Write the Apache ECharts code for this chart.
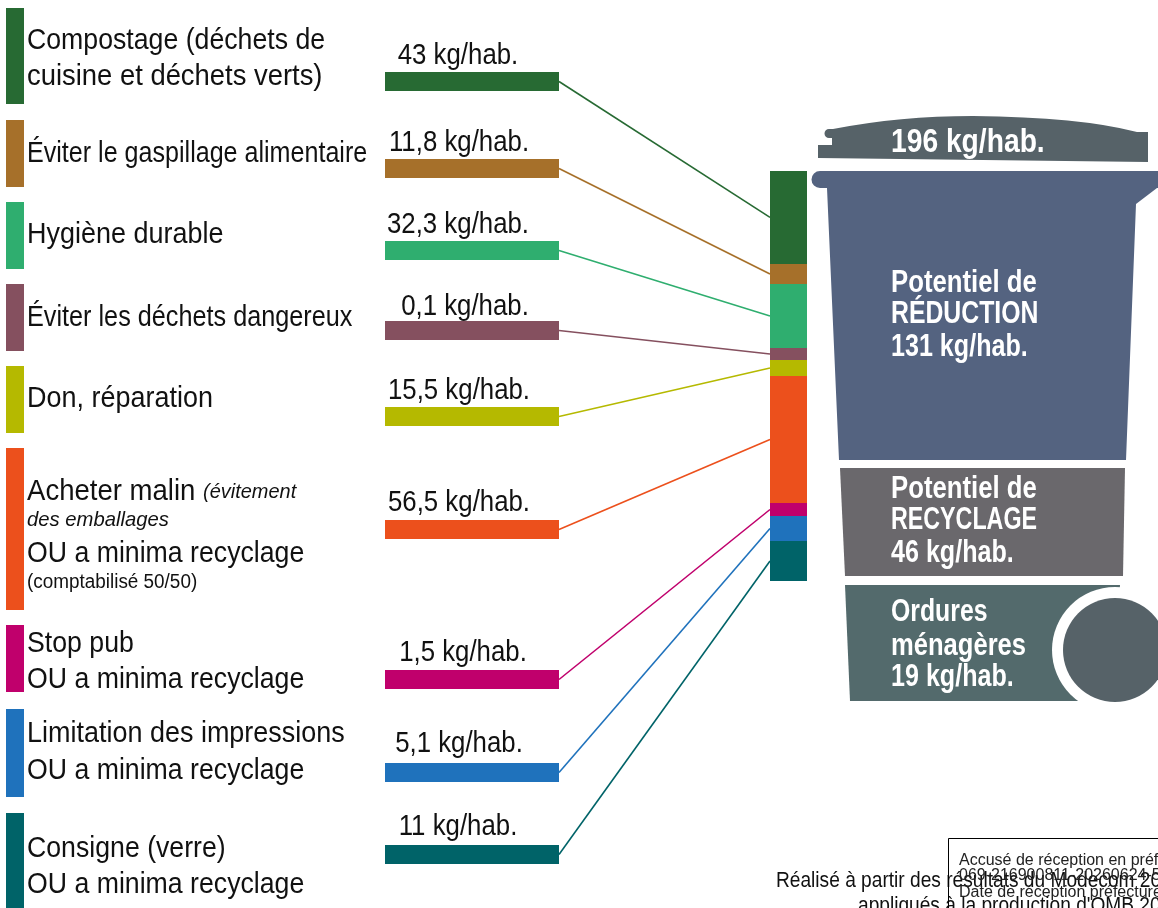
<!DOCTYPE html>
<html>
<head>
<meta charset="utf-8">
<title>Potentiel de réduction</title>
<script src="https://cdn.jsdelivr.net/npm/echarts@6/dist/echarts.min.js"></script>
<style>
  html, body { margin: 0; padding: 0; background: #fff; overflow: hidden; }
  #main { width: 1158px; height: 908px; }
</style>
</head>
<body>
<div id="main"></div>
<script>
// data
var categories = [
  ["Compostage (déchets de", "cuisine et déchets verts)"],
  ["Éviter le gaspillage alimentaire"],
  ["Hygiène durable"],
  ["Éviter les déchets dangereux"],
  ["Don, réparation"],
  ["Acheter malin {i|(évitement}", "{i|des emballages}", "OU a minima recyclage", "{s|(comptabilisé 50/50)}"],
  ["Stop pub", "OU a minima recyclage"],
  ["Limitation des impressions", "OU a minima recyclage"],
  ["Consigne (verre)", "OU a minima recyclage"]
];
var valueLabels = ["43 kg/hab.", "11,8 kg/hab.", "32,3 kg/hab.", "0,1 kg/hab.", "15,5 kg/hab.",
  "56,5 kg/hab.", "1,5 kg/hab.", "5,1 kg/hab.", "11 kg/hab."];
// segment sizes as drawn in the column (the picture does not follow the kg values strictly)
var columnValues = [43, 9.3, 29.6, 5.6, 7.4, 58.8, 6, 11.6, 18.5];
var binLabels = [
  ["196 kg/hab."],
  ["Potentiel de", "RÉDUCTION", "131 kg/hab."],
  ["Potentiel de", "RECYCLAGE", "46 kg/hab."],
  ["Ordures", "ménagères", "19 kg/hab."]
];

// styles and layout
var colors = ["#276a33", "#a6702a", "#2fae6f", "#85505f", "#b5b900", "#ec501c", "#c0006c", "#1f72bc", "#006368"];
var stripTop = [8, 120, 202, 284, 366, 448, 625, 709, 813];
var stripBottom = [104, 187, 269, 351, 433, 610, 692, 797, 908];
var barTop = [72, 159, 241, 321, 407, 520, 670, 763, 845];
var labelY = [[41, 77], [154], [235], [318], [399], [492, 520, 554, 582], [644, 680], [734, 771], [849, 885]];
// the source font is condensed, the installed ones are not: squeeze each line to its width
var labelScale = [[0.92, 0.945], [0.865], [0.93], [0.87], [0.93], [0.95, 0.965, 0.92, 0.945], [0.92, 0.92], [0.93, 0.92], [0.92, 0.92]];
var valueLabelX = [458, 459, 458, 465, 459, 459, 463, 459, 458];
var valueLabelY = [56, 143, 225, 307, 391, 503, 653, 744, 827];
var binLabelY = [[143], [283, 314, 347], [489, 520, 553], [612, 646, 677]];
var binLabelScale = [[0.83], [0.83, 0.8, 0.81], [0.83, 0.75, 0.81], [0.8, 0.825, 0.81]];
var COL_LEFT = 770, COL_W = 37, COL_TOP = 171, COL_H = 410;
var BAR_LEFT = 385, BAR_RIGHT = 559, BAR_H = 19;
var SANS = '"Liberation Sans", sans-serif';

var columnTotal = columnValues.reduce(function (a, b) { return a + b; }, 0);
function columnMid(i) {
  var before = columnValues.slice(0, i).reduce(function (a, b) { return a + b; }, 0);
  return COL_TOP + (before + columnValues[i] / 2) / columnTotal * COL_H;
}

var rowIndex = categories.map(function (c, i) { return i; });

function renderRow(params, api) {
  var i = api.value(0);
  var children = [];
  var p;
  // colour strip on the left
  var a = api.coord([6, stripTop[i]]), b = api.coord([24, stripBottom[i]]);
  children.push({ type: "rect", shape: { x: a[0], y: a[1], width: b[0] - a[0], height: b[1] - a[1] }, style: { fill: colors[i] } });
  // labels
  categories[i].forEach(function (line, k) {
    p = api.coord([27, labelY[i][k]]);
    children.push({
      type: "text", x: p[0], y: p[1], scaleX: labelScale[i][k],
      style: {
        text: line, fill: "#111", align: "left", verticalAlign: "middle",
        font: "29px " + SANS,
        rich: {
          i: { font: "italic 21px " + SANS, fill: "#111" },
          s: { font: "20px " + SANS, fill: "#111" }
        }
      }
    });
  });
  // value bar
  a = api.coord([BAR_LEFT, barTop[i]]);
  b = api.coord([BAR_RIGHT, barTop[i] + BAR_H]);
  children.push({ type: "rect", shape: { x: a[0], y: a[1], width: b[0] - a[0], height: b[1] - a[1] }, style: { fill: colors[i] } });
  // value label
  p = api.coord([valueLabelX[i], valueLabelY[i]]);
  children.push({
    type: "text", x: p[0], y: p[1], scaleX: 0.89,
    style: { text: valueLabels[i], fill: "#111", align: "center", verticalAlign: "middle", font: "29px " + SANS }
  });
  // link to the column
  a = api.coord([BAR_RIGHT, barTop[i] + BAR_H / 2]);
  b = api.coord([COL_LEFT, columnMid(i)]);
  children.push({
    type: "line", shape: { x1: a[0], y1: a[1], x2: b[0], y2: b[1] },
    style: { stroke: colors[i], lineWidth: 1.6, fill: null }
  });
  return { type: "group", children: children };
}

// bin outline pieces
echarts.graphic.registerShape("binLid", echarts.graphic.extendPath("M818 145 H832 V138 H829 A4.5 4.5 0 0 1 829 129 H833 Q 900 116 973 116 Q 1080 117 1137 132 H1148 V162 L818 158 Z"));
echarts.graphic.registerShape("binBody", echarts.graphic.extendPath("M820 171 H1158 V188 H1157 L1136 204 L1126 460 H839 L827 188 H820 A8.5 8.5 0 0 1 820 171 Z"));

var binGraphics = [
  { type: "binLid", style: { fill: "#566268" } },
  { type: "binBody", style: { fill: "#546380" } },
  { type: "polygon", shape: { points: [[840, 468], [1125, 468], [1123, 576], [845, 576]] }, style: { fill: "#6a686c" } },
  { type: "polygon", shape: { points: [[845, 585], [1120, 585], [1112, 701], [850, 701]] }, style: { fill: "#536a6c" } },
  { type: "circle", shape: { cx: 1115, cy: 650, r: 63 }, style: { fill: "#fff" } },
  { type: "circle", shape: { cx: 1115, cy: 650, r: 52 }, style: { fill: "#566268" } }
];
binLabels.forEach(function (lines, i) {
  lines.forEach(function (line, k) {
    binGraphics.push({
      type: "text", x: 891, y: binLabelY[i][k], scaleX: binLabelScale[i][k], z: 5,
      style: { text: line, fill: "#fff", align: "left", verticalAlign: "middle", font: "bold " + (i === 0 ? 34 : 31) + "px " + SANS }
    });
  });
});
// footer and stamp
var footerGraphics = [
  { type: "text", x: 776, y: 881, scaleX: 0.87, style: { text: "Réalisé à partir des résultats du Modecom 202", fill: "#111", verticalAlign: "middle", font: "22px " + SANS } },
  { type: "text", x: 858, y: 906, scaleX: 0.87, style: { text: "appliqués à la production d'OMB 202", fill: "#111", verticalAlign: "middle", font: "22px " + SANS } },
  { type: "rect", shape: { x: 948.5, y: 838.5, width: 260, height: 100 }, style: { fill: null, stroke: "#000", lineWidth: 1 } },
  { type: "text", x: 959, y: 861, style: { text: "Accusé de réception en préfecture", fill: "#222", verticalAlign: "middle", font: "16px " + SANS } },
  { type: "text", x: 959, y: 876, style: { text: "069-216900811-20260624-5", fill: "#222", verticalAlign: "middle", font: "16px " + SANS } },
  { type: "text", x: 959, y: 893, style: { text: "Date de réception préfecture", fill: "#222", verticalAlign: "middle", font: "16px " + SANS } }
];

var columnSeries = columnValues.map(function (v, i) {
  return {
    type: "bar", stack: "column", xAxisIndex: 1, yAxisIndex: 1, barWidth: "100%",
    data: [v], itemStyle: { color: colors[i] }, silent: true
  };
});

var chart = echarts.init(document.getElementById("main"));
chart.setOption({
  animation: false,
  backgroundColor: "#fff",
  tooltip: { show: false },
  grid: [
    { left: 0, top: 0, width: 1158, height: 908 },
    { left: COL_LEFT, top: COL_TOP, width: COL_W, height: COL_H }
  ],
  xAxis: [
    { type: "value", gridIndex: 0, min: 0, max: 1158, show: false },
    { type: "category", gridIndex: 1, data: ["total"], show: false }
  ],
  yAxis: [
    { type: "value", gridIndex: 0, min: 0, max: 908, inverse: true, show: false },
    { type: "value", gridIndex: 1, min: 0, max: columnTotal, inverse: true, show: false }
  ],
  graphic: binGraphics.concat(footerGraphics),
  series: [{
    type: "custom", xAxisIndex: 0, yAxisIndex: 0, silent: true, clip: false,
    renderItem: renderRow,
    encode: { x: 0, y: 0 },
    data: rowIndex.map(function (i) { return [i]; })
  }].concat(columnSeries)
});
</script>
</body>
</html>
